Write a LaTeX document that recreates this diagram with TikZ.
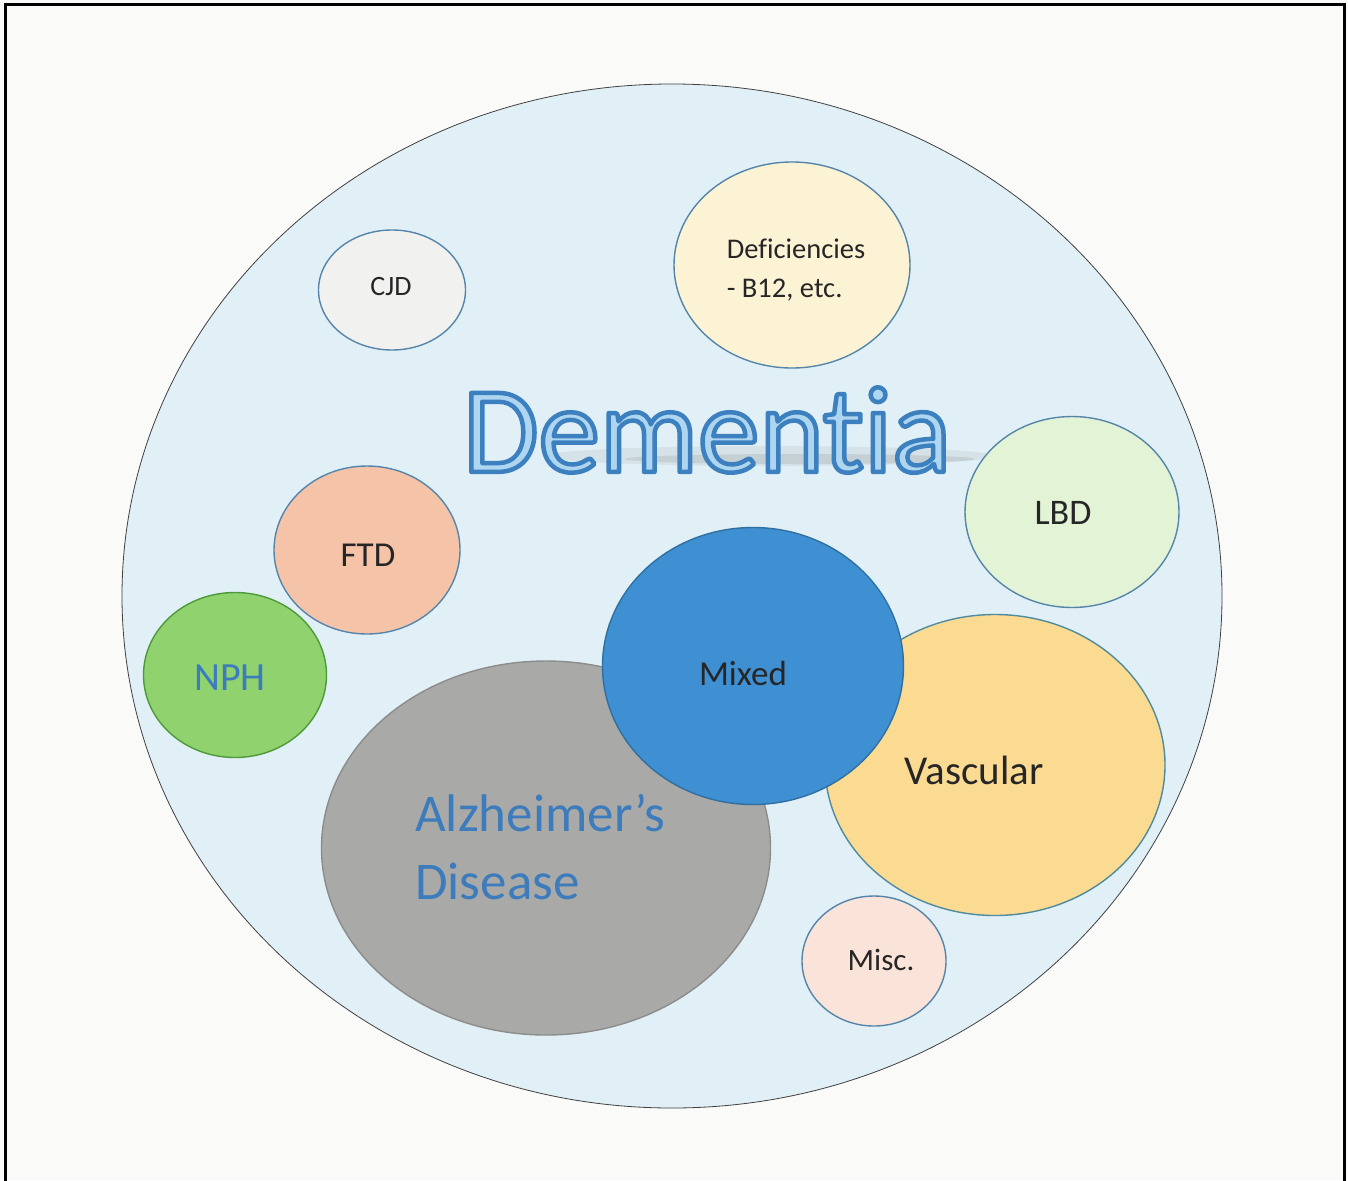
\documentclass[tikz,border=0pt]{standalone}
\usepackage{fontspec}
\setmainfont{Carlito}[Ligatures=NoCommon]
\usetikzlibrary{shapes.geometric}
\definecolor{paper}{HTML}{FAFAF9}
\definecolor{bigfill}{HTML}{E1F0F7}
\definecolor{edgeblue}{HTML}{5585AA}
\definecolor{cjdfill}{HTML}{F1F1F0}
\definecolor{deffill}{HTML}{FCF2D4}
\definecolor{lbdfill}{HTML}{E3F4D6}
\definecolor{ftdfill}{HTML}{F4C3A8}
\definecolor{nphfill}{HTML}{8FD26E}
\definecolor{nphedge}{HTML}{4E9A3A}
\definecolor{mixfill}{HTML}{3F8FD3}
\definecolor{mixedge}{HTML}{3070A0}
\definecolor{vasfill}{HTML}{FBDB92}
\definecolor{vasedge}{HTML}{4F8A9E}
\definecolor{alzfill}{HTML}{A9A9A8}
\definecolor{alzedge}{HTML}{8C8C8C}
\definecolor{miscfill}{HTML}{FAE3D9}
\definecolor{labeldark}{HTML}{262626}
\definecolor{labelblue}{HTML}{3C7BBC}
\definecolor{deminner}{HTML}{AED6F1}
\newcommand\outlinedtext[1]{{\color{deminner}\special{pdf:literal direct 2 Tr 4.5 w 1 j 0.24 0.50 0.75 RG}#1\special{pdf:literal direct 0 Tr 0.4 w}}}
\begin{document}
\begin{tikzpicture}[x=1pt,y=-1pt,
  blob/.style={ellipse, draw=edgeblue, line width=1.4pt, inner sep=0pt},
  lab/.style={text=labeldark, inner sep=0pt, anchor=center}]
\useasboundingbox (0,0) rectangle (1348,1180);
\fill[paper] (0,0) rectangle (1348,1180);
\draw[line width=3pt, black] (5,1190) -- (5,5) -- (1344,5) -- (1344,1190);
% main ellipse
\node[ellipse, draw=black!75, line width=0.8pt, fill=bigfill, minimum width=1100pt, minimum height=1024pt, inner sep=0pt] (dem) at (672,596) {};
% shadow smear
\fill[gray, opacity=0.12] (770,456) ellipse [x radius=225pt, y radius=10pt];
\fill[gray, opacity=0.18] (800,459) ellipse [x radius=175pt, y radius=5pt];
% small circles
\node[blob, fill=cjdfill, minimum width=147pt, minimum height=120pt] (cjd) at (392,290) {};
\node[lab, font=\fontsize{28}{30}\selectfont] (cjdt) at (391,287) {CJD};
\node[blob, fill=deffill, minimum width=236pt, minimum height=206pt] (def) at (792,265) {};
\node[lab, font=\fontsize{28.5}{39}\selectfont, align=left] (deft) at (796,270) {Deficiencies\\- B12, etc.};
\node[blob, fill=lbdfill, minimum width=214pt, minimum height=191pt] (lbd) at (1072,512) {};
\node[lab, font=\fontsize{36}{40}\selectfont] (lbdt) at (1063,513) {LBD};
\node[blob, fill=ftdfill, minimum width=186pt, minimum height=168pt] (ftd) at (367,550) {};
\node[lab, font=\fontsize{35}{40}\selectfont] (ftdt) at (368,555) {FTD};
\node[blob, draw=nphedge, fill=nphfill, minimum width=183pt, minimum height=165pt] (nph) at (235,675) {};
\node[lab, text=labelblue, font=\fontsize{40}{44}\selectfont] (npht) at (230,678) {NPH};
% big circles
\node[blob, draw=alzedge, fill=alzfill, minimum width=449pt, minimum height=374pt] (alz) at (546,848) {};
\node[blob, draw=vasedge, fill=vasfill, minimum width=340pt, minimum height=301pt] (vas) at (995,765) {};
\node[blob, draw=mixedge, fill=mixfill, minimum width=301pt, minimum height=277pt] (mix) at (753,666) {};
\node[lab, font=\fontsize{35}{40}\selectfont] (mixt) at (743,673) {Mixed};
\node[lab, font=\fontsize{41}{44}\selectfont] (vast) at (974,770) {Vascular};
\node[lab, text=labelblue, font=\fontsize{53}{68}\selectfont, align=left, anchor=north west] (alzt) at (415,794) {Alzheimer’s\\Disease};
\node[blob, fill=miscfill, minimum width=144pt, minimum height=130pt] (misc) at (874,961) {};
\node[lab, font=\fontsize{31}{34}\selectfont] (misct) at (881,960) {Misc.};
% title
\node[inner sep=0pt, font=\fontsize{123}{130}\selectfont] (title) at (707,430) {\outlinedtext{Dementia}};
\end{tikzpicture}
\end{document}
